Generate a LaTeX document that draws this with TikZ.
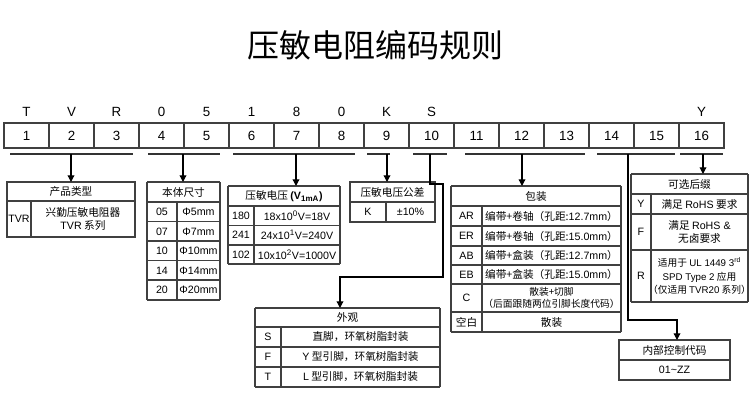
\documentclass[tikz,border=0pt]{standalone}
\usepackage{fontspec}
\setmainfont{Liberation Sans}
\newfontfamily\cjk{Noto Sans CJK SC}
\newfontfamily\cjkb{Noto Sans CJK SC Medium}
\usetikzlibrary{arrows.meta}
\begin{document}
\begin{tikzpicture}[x=0.75pt,y=-0.75pt,
  ln/.style={draw=black!75,line width=0.8pt},
  bar/.style={draw=black!80,line width=1.2pt},
  arr/.style={draw=black,line width=0.9pt,-{Triangle[length=5pt,width=5pt]}},
  t/.style={font=\fontsize{8}{9.5}\selectfont\cjk,align=center,inner sep=0pt},
  big/.style={font=\fontsize{10}{12}\selectfont,inner sep=0pt}]
\useasboundingbox (0,0) rectangle (750,415);
\node[font=\fontsize{24}{28}\selectfont\cjk] (title) at (375,45) {压敏电阻编码规则};
% code row
\foreach \i/\l in {1/T,2/V,3/R,4/0,5/5,6/1,7/8,8/0,9/K,10/S,16/Y}{
  \node[big] (l\i) at ({4+45*(\i-1)+22.5},112) {\l};}
\foreach \i in {1,...,16}{
  \draw[ln] ({4+45*(\i-1)},123) rectangle ({4+45*\i},148);
  \node[big] (c\i) at ({4+45*(\i-1)+22.5},135.5) {\i};}
% group bars
\draw[bar] (10,154) -- (133,154); \draw[bar] (148,154) -- (220,154);
\draw[bar] (233,154) -- (355,154); \draw[bar] (367,154) -- (390,154);
\draw[bar] (413,154) -- (447,154); \draw[bar] (465,154) -- (585,154);
\draw[bar] (597,154) -- (675,154); \draw[bar] (680,154) -- (723,154);
% box 1
\draw[ln] (7,182) rectangle (135,237); \draw[ln] (7,201) -- (135,201); \draw[ln] (31,201) -- (31,237);
\node[t] (h1) at (71,191.5) {产品类型};
\node[t] (a1) at (19,219) {\rmfamily TVR};
\node[t] (b1) at (83,219) {兴勤压敏电阻器\\{\rmfamily TVR} 系列};
\coordinate (p1) at (71,154); \draw[arr] (p1) -- (71,182);
% box 2
\foreach \y in {182,202,221.5,241,260.5,280,300}{\draw[ln] (147,\y) -- (220,\y);}
\draw[ln] (147,182) -- (147,300); \draw[ln] (220,182) -- (220,300); \draw[ln] (177,202) -- (177,300);
\node[t] (h2) at (183.5,192) {本体尺寸};
\foreach \a/\b/\y in {05/5/212,07/7/231.5,10/10/251,14/14/270.5,20/20/290}{
  \node[t] at (162,\y) {\rmfamily\a}; \node[t] at (198.5,\y) {\rmfamily Φ\b mm};}
\coordinate (p2) at (183,154); \draw[arr] (p2) -- (183,182);
% box 3
\foreach \y in {186,206,225.5,245,264}{\draw[ln] (228,\y) -- (340,\y);}
\draw[ln] (228,186) -- (228,264); \draw[ln] (340,186) -- (340,264); \draw[ln] (254,206) -- (254,264);
\node[t] (h3) at (284,196) {压敏电压 {\rmfamily\bfseries (V\textsubscript{1mA})}};
\node[t] at (241,215.5) {\rmfamily 180}; \node[t] at (297,215.5) {\rmfamily 18x10\textsuperscript{0}V=18V};
\node[t] at (241,235) {\rmfamily 241}; \node[t] at (297,235) {\rmfamily 24x10\textsuperscript{1}V=240V};
\node[t] at (241,254.5) {\rmfamily 102}; \node[t] at (297,254.5) {\rmfamily 10x10\textsuperscript{2}V=1000V};
\coordinate (p3) at (296,154); \draw[arr] (p3) -- (296,186);
% box 4
\draw[ln] (350,182) rectangle (435,222); \draw[ln] (350,202) -- (435,202); \draw[ln] (386,202) -- (386,222);
\node[t] (h4) at (392.5,192) {压敏电压公差};
\node[t] at (368,212) {\rmfamily K}; \node[t] at (410.5,212) {\rmfamily ±10\%};
\coordinate (p4) at (387,154); \draw[arr] (p4) -- (387,182);
% box 5 外观
\foreach \y in {308,327,347,367,387}{\draw[ln] (255,\y) -- (440,\y);}
\draw[ln] (255,308) -- (255,387); \draw[ln] (440,308) -- (440,387); \draw[ln] (281,327) -- (281,387);
\node[t] (h5) at (347.5,317.5) {外观};
\node[t] at (268,337) {\rmfamily S}; \node[t] at (360.5,337) {直脚，环氧树脂封装};
\node[t] at (268,357) {\rmfamily F}; \node[t] at (360.5,357) {{\rmfamily Y} 型引脚，环氧树脂封装};
\node[t] at (268,377) {\rmfamily T}; \node[t] at (360.5,377) {{\rmfamily L} 型引脚，环氧树脂封装};
\coordinate (p5) at (430,154);
\draw[arr] (p5) -- (430,184) -- (443,184) -- (443,277) -- (340,277) -- (340,308);
% box 6 包装
\foreach \y in {186,206,226,246,265,284,312,332}{\draw[ln] (451,\y) -- (621,\y);}
\draw[ln] (451,186) -- (451,332); \draw[ln] (621,186) -- (621,332); \draw[ln] (482,206) -- (482,332);
\node[t] (h6) at (536,196) {包装};
\foreach \c/\y in {AR/216,ER/236,AB/255.5,EB/274.5}{
  \node[t] at (466.5,\y) {\rmfamily\c};}
\node[t] at (551.5,216) {编带+卷轴（孔距:{\rmfamily 12.7mm}）};
\node[t] at (551.5,236) {编带+卷轴（孔距:{\rmfamily 15.0mm}）};
\node[t] at (551.5,255.5) {编带+盒装（孔距:{\rmfamily 12.7mm}）};
\node[t] at (551.5,274.5) {编带+盒装（孔距:{\rmfamily 15.0mm}）};
\node[t] at (466.5,298) {\rmfamily C};
\node[t,font=\fontsize{7.3}{9}\selectfont\cjk] at (551.5,298) {散装+切脚\\（后面跟随两位引脚长度代码）};
\node[t] at (466.5,322) {空白}; \node[t] at (551.5,322) {散装};
\coordinate (p6) at (522,154); \draw[arr] (p6) -- (522,186);
% box 7 内部控制代码
\draw[ln] (619,340) rectangle (730,380); \draw[ln] (619,360) -- (730,360);
\node[t] (h7) at (674.5,350) {内部控制代码};
\node[t] at (674.5,370) {\rmfamily 01\textasciitilde ZZ};
\coordinate (p7) at (628,154); \draw[arr] (p7) -- (628,320) -- (677,320) -- (677,340);
% box 8 可选后缀
\foreach \y in {174,194,214,250,302}{\draw[ln] (631,\y) -- (748,\y);}
\draw[ln] (631,174) -- (631,302); \draw[ln] (748,174) -- (748,302); \draw[ln] (651,194) -- (651,302);
\node[t] (h8) at (689.5,184) {可选后缀};
\node[t] at (641,204) {\rmfamily Y}; \node[t] at (699.5,204) {满足 {\rmfamily RoHS} 要求};
\node[t] at (641,232) {\rmfamily F}; \node[t] at (699.5,232) {满足 {\rmfamily RoHS \&}\\无卤要求};
\node[t] at (641,276) {\rmfamily R};
\node[t,font=\fontsize{7.3}{10}\selectfont\cjk] at (699.5,276) {适用于 {\rmfamily UL 1449 3\textsuperscript{rd}}\\{\rmfamily SPD Type 2} 应用\\（仅适用 {\rmfamily TVR20} 系列）};
\coordinate (p8) at (703,154); \draw[arr] (p8) -- (703,174);
\end{tikzpicture}
\end{document}
